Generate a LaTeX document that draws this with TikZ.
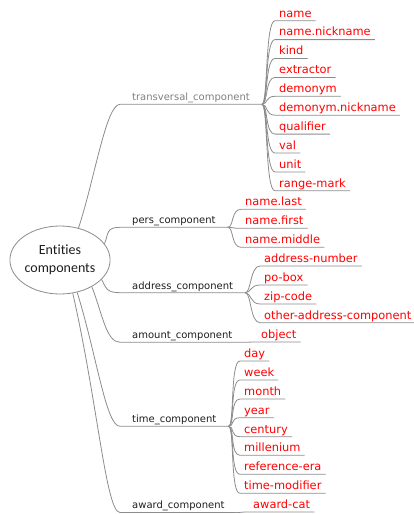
\documentclass[tikz,border=0pt]{standalone}
\usepackage{fontspec}
\setmainfont{DejaVu Sans}
\newfontfamily\rootfont[Ligatures=NoCommon]{Carlito}
\usepackage{tikz}
\usetikzlibrary{shapes,arrows.meta}

\definecolor{lineGray}{RGB}{140,140,140}
\definecolor{compGray}{RGB}{128,128,128}
\definecolor{leafRed}{RGB}{255,0,0}
\definecolor{textDark}{RGB}{30,30,30}

\begin{document}
\begin{tikzpicture}[x=1pt,y=-1pt]
		\useasboundingbox (0,0) rectangle (414,514);
		\begin{scope}
			[
				styleRoot/.style={
					ellipse, draw=lineGray, line width=0.8pt,
					minimum width=100pt, minimum height=68pt, inner sep=0pt,
					align=center, text=textDark,
					font=\rootfont\fontsize{14}{18.5}\selectfont
					},
				styleComp/.style={anchor=south west, inner xsep=12pt, inner ysep=3.5pt,
					text depth=0pt, text=textDark, font=\fontsize{10}{12}\selectfont},
				styleLeaf/.style={anchor=south west, inner xsep=4pt, inner ysep=3.5pt,
					text depth=0pt, text=leafRed, font=\fontsize{11.4}{13}\selectfont},
			]
			\node(root)[styleRoot] at (60,260) {Entities\\components};

			\node(trans)[styleComp, text=compGray] at (120,104.3) {transversal\_component};
			\node(tName)[styleLeaf] at (275,20.7) {name};
			\node(tNick)[styleLeaf] at (275,39.6) {name.nickname};
			\node(tKind)[styleLeaf] at (275,58.5) {kind};
			\node(tExtr)[styleLeaf] at (275,77.4) {extractor};
			\node(tDemo)[styleLeaf] at (275,96.3) {demonym};
			\node(tDemoNick)[styleLeaf] at (275,115.2) {demonym.nickname};
			\node(tQual)[styleLeaf] at (275,134.1) {qualifier};
			\node(tVal)[styleLeaf] at (275,153) {val};
			\node(tUnit)[styleLeaf] at (275,171.9) {unit};
			\node(tRange)[styleLeaf] at (275,190.8) {range-mark};

			\node(pers)[styleComp] at (120,227.3) {pers\_component};
			\node(pLast)[styleLeaf] at (241,209.3) {name.last};
			\node(pFirst)[styleLeaf] at (241,228.3) {name.first};
			\node(pMiddle)[styleLeaf] at (241,247.3) {name.middle};

			\node(addr)[styleComp] at (120,292.7) {address\_component};
			\node(aNumber)[styleLeaf] at (260,266) {address-number};
			\node(aBox)[styleLeaf] at (260,285) {po-box};
			\node(aZip)[styleLeaf] at (260,304) {zip-code};
			\node(aOther)[styleLeaf] at (260,322.7) {other-address-component};

			\node(amount)[styleComp] at (120,342.3) {amount\_component};
			\node(mObject)[styleLeaf] at (257,342) {object};

			\node(time)[styleComp] at (120,426.3) {time\_component};
			\node(tmDay)[styleLeaf] at (240,361) {day};
			\node(tmWeek)[styleLeaf] at (240,380) {week};
			\node(tmMonth)[styleLeaf] at (240,399) {month};
			\node(tmYear)[styleLeaf] at (240,417.7) {year};
			\node(tmCentury)[styleLeaf] at (240,436.7) {century};
			\node(tmMill)[styleLeaf] at (240,455.3) {millenium};
			\node(tmEra)[styleLeaf] at (240,474.3) {reference-era};
			\node(tmMod)[styleLeaf] at (240,493.3) {time-modifier};

			\node(award)[styleComp] at (120,512.5) {award\_component};
			\node(wCat)[styleLeaf] at (249,512) {award-cat};
		\end{scope}

		\begin{scope}
			[
				styleEdge/.style={draw=lineGray, line width=0.8pt},
				styleBranch/.style 2 args={styleEdge,
					to path={.. controls +(#1,#2) and +(-14,0) .. (\tikztotarget.south west) -- (\tikztotarget.south east)}},
				styleFork/.style={styleEdge,
					to path={.. controls +(6,0) and +(-10,0) .. (\tikztotarget.south west) -- (\tikztotarget.south east)}},
			]
			\path
			(root.60) edge[styleBranch={16}{-48}]	(trans)
			(root.20) edge[styleBranch={4}{-10}]	(pers)
			(root.-25) edge[styleBranch={4}{8}]		(addr)
			(root.-40) edge[styleBranch={10}{25}]	(amount)
			(root.-62) edge[styleBranch={20}{65}]	(time)
			(root.-69) edge[styleBranch={25}{110}]	(award)

			(trans.south east) edge[styleFork]	(tName)
			(trans.south east) edge[styleFork]	(tNick)
			(trans.south east) edge[styleFork]	(tKind)
			(trans.south east) edge[styleFork]	(tExtr)
			(trans.south east) edge[styleFork]	(tDemo)
			(trans.south east) edge[styleFork]	(tDemoNick)
			(trans.south east) edge[styleFork]	(tQual)
			(trans.south east) edge[styleFork]	(tVal)
			(trans.south east) edge[styleFork]	(tUnit)
			(trans.south east) edge[styleFork]	(tRange)

			(pers.south east) edge[styleFork]	(pLast)
			(pers.south east) edge[styleFork]	(pFirst)
			(pers.south east) edge[styleFork]	(pMiddle)

			(addr.south east) edge[styleFork]	(aNumber)
			(addr.south east) edge[styleFork]	(aBox)
			(addr.south east) edge[styleFork]	(aZip)
			(addr.south east) edge[styleFork]	(aOther)

			(amount.south east) edge[styleFork]	(mObject)

			(time.south east) edge[styleFork]	(tmDay)
			(time.south east) edge[styleFork]	(tmWeek)
			(time.south east) edge[styleFork]	(tmMonth)
			(time.south east) edge[styleFork]	(tmYear)
			(time.south east) edge[styleFork]	(tmCentury)
			(time.south east) edge[styleFork]	(tmMill)
			(time.south east) edge[styleFork]	(tmEra)
			(time.south east) edge[styleFork]	(tmMod)

			(award.south east) edge[styleFork]	(wCat);
		\end{scope}
	\end{tikzpicture}
\end{document}
